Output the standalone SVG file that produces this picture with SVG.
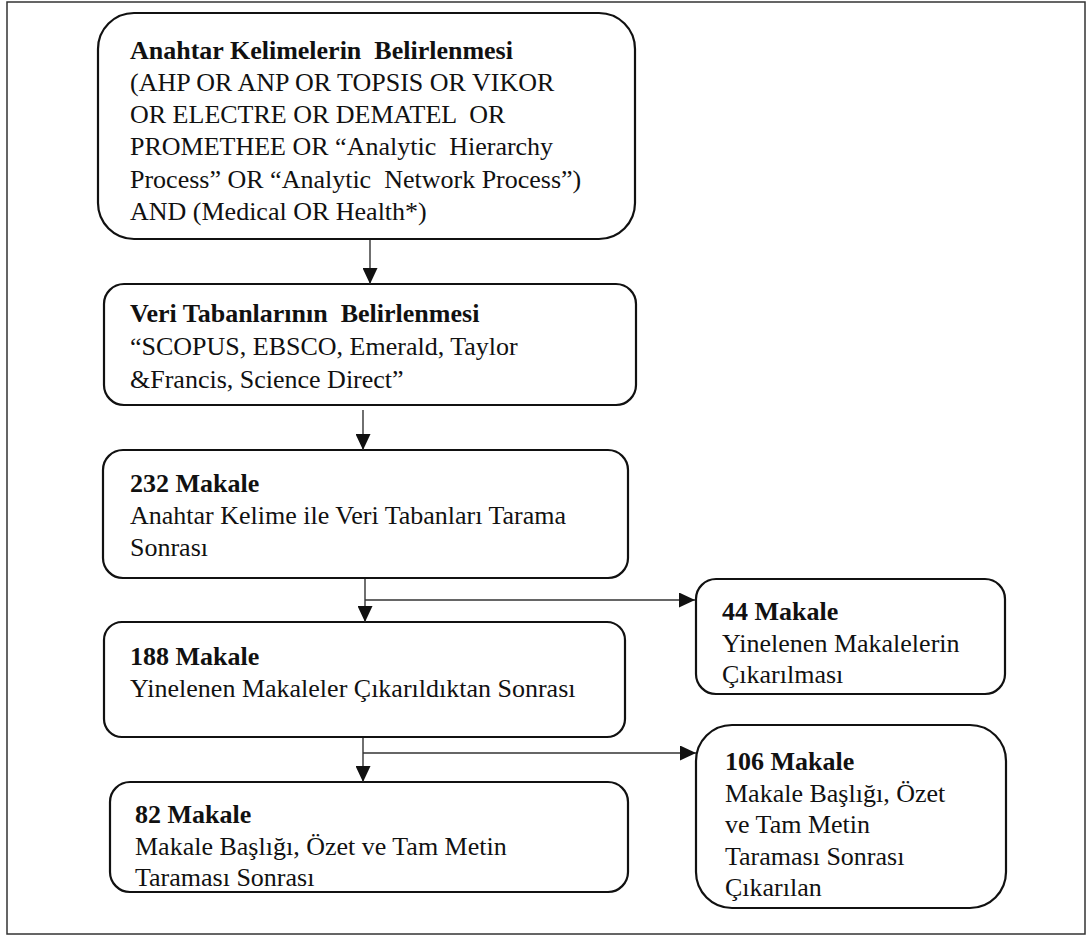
<svg xmlns="http://www.w3.org/2000/svg" width="1092" height="938" viewBox="0 0 1092 938">
<style>
.frame{fill:#fff;stroke:#333;stroke-width:1.5}
.box{fill:#fff;stroke:#111;stroke-width:2.2}
.edge{fill:none;stroke:#333;stroke-width:1.4}
text{font-family:"Liberation Serif","Times New Roman",serif;font-size:26px;fill:#111}
.b{font-weight:bold}
</style>
<defs>
<marker id="ah" markerUnits="userSpaceOnUse" markerWidth="16" markerHeight="15" refX="16" refY="7.5" orient="auto" viewBox="0 0 16 15">
<path d="M0,0 L16,7.5 L0,15 z" fill="#111"/>
</marker>
</defs>
<rect class="frame" x="7" y="2" width="1078" height="932"/>
<g id="n1">
<rect class="box" x="98" y="13" width="537" height="226" rx="36" ry="36"/>
<text x="130" y="59" class="b" xml:space="preserve">Anahtar Kelimelerin  Belirlenmesi</text>
<text x="130" y="91">(AHP OR ANP OR TOPSIS OR VIKOR</text>
<text x="130" y="123" xml:space="preserve">OR ELECTRE OR DEMATEL  OR</text>
<text x="130" y="155" xml:space="preserve">PROMETHEE OR “Analytic  Hierarchy</text>
<text x="130" y="188" xml:space="preserve">Process” OR “Analytic  Network Process”)</text>
<text x="130" y="220">AND (Medical OR Health*)</text>
</g>
<g id="n2">
<rect class="box" x="104" y="284" width="532" height="121" rx="20" ry="20"/>
<text x="130" y="322" class="b" xml:space="preserve">Veri Tabanlarının  Belirlenmesi</text>
<text x="130" y="355">“SCOPUS, EBSCO, Emerald, Taylor</text>
<text x="130" y="388">&amp;Francis, Science Direct”</text>
</g>
<g id="n3">
<rect class="box" x="103" y="450" width="525" height="128" rx="20" ry="20"/>
<text x="130" y="492" class="b">232 Makale</text>
<text x="130" y="524">Anahtar Kelime ile Veri Tabanları Tarama</text>
<text x="130" y="556">Sonrası</text>
</g>
<g id="n4">
<rect class="box" x="104" y="622" width="521" height="115" rx="18" ry="18"/>
<text x="130" y="665" class="b">188 Makale</text>
<text x="130" y="697">Yinelenen Makaleler Çıkarıldıktan Sonrası</text>
</g>
<g id="n5">
<rect class="box" x="110" y="782" width="518" height="110" rx="20" ry="20"/>
<text x="135" y="823" class="b">82 Makale</text>
<text x="135" y="855">Makale Başlığı, Özet ve Tam Metin</text>
<text x="135" y="886">Taraması Sonrası</text>
</g>
<g id="n6">
<rect class="box" x="696" y="579" width="309" height="115" rx="20" ry="20"/>
<text x="722" y="620" class="b">44 Makale</text>
<text x="722" y="652">Yinelenen Makalelerin</text>
<text x="722" y="683">Çıkarılması</text>
</g>
<g id="n7">
<rect class="box" x="696" y="725" width="310" height="183" rx="36" ry="36"/>
<text x="725" y="770" class="b">106 Makale</text>
<text x="725" y="802">Makale Başlığı, Özet</text>
<text x="725" y="833">ve Tam Metin</text>
<text x="725" y="865">Taraması Sonrası</text>
<text x="725" y="896">Çıkarılan</text>
</g>
<g id="connectors">
<line class="edge" x1="370" y1="240" x2="370" y2="284" marker-end="url(#ah)"/>
<line class="edge" x1="363" y1="410" x2="363" y2="450" marker-end="url(#ah)"/>
<line class="edge" x1="365" y1="579" x2="365" y2="622" marker-end="url(#ah)"/>
<line class="edge" x1="365" y1="600" x2="695" y2="600" marker-end="url(#ah)"/>
<line class="edge" x1="363" y1="738" x2="363" y2="782" marker-end="url(#ah)"/>
<line class="edge" x1="363" y1="753" x2="696" y2="753" marker-end="url(#ah)"/>
</g>
</svg>
